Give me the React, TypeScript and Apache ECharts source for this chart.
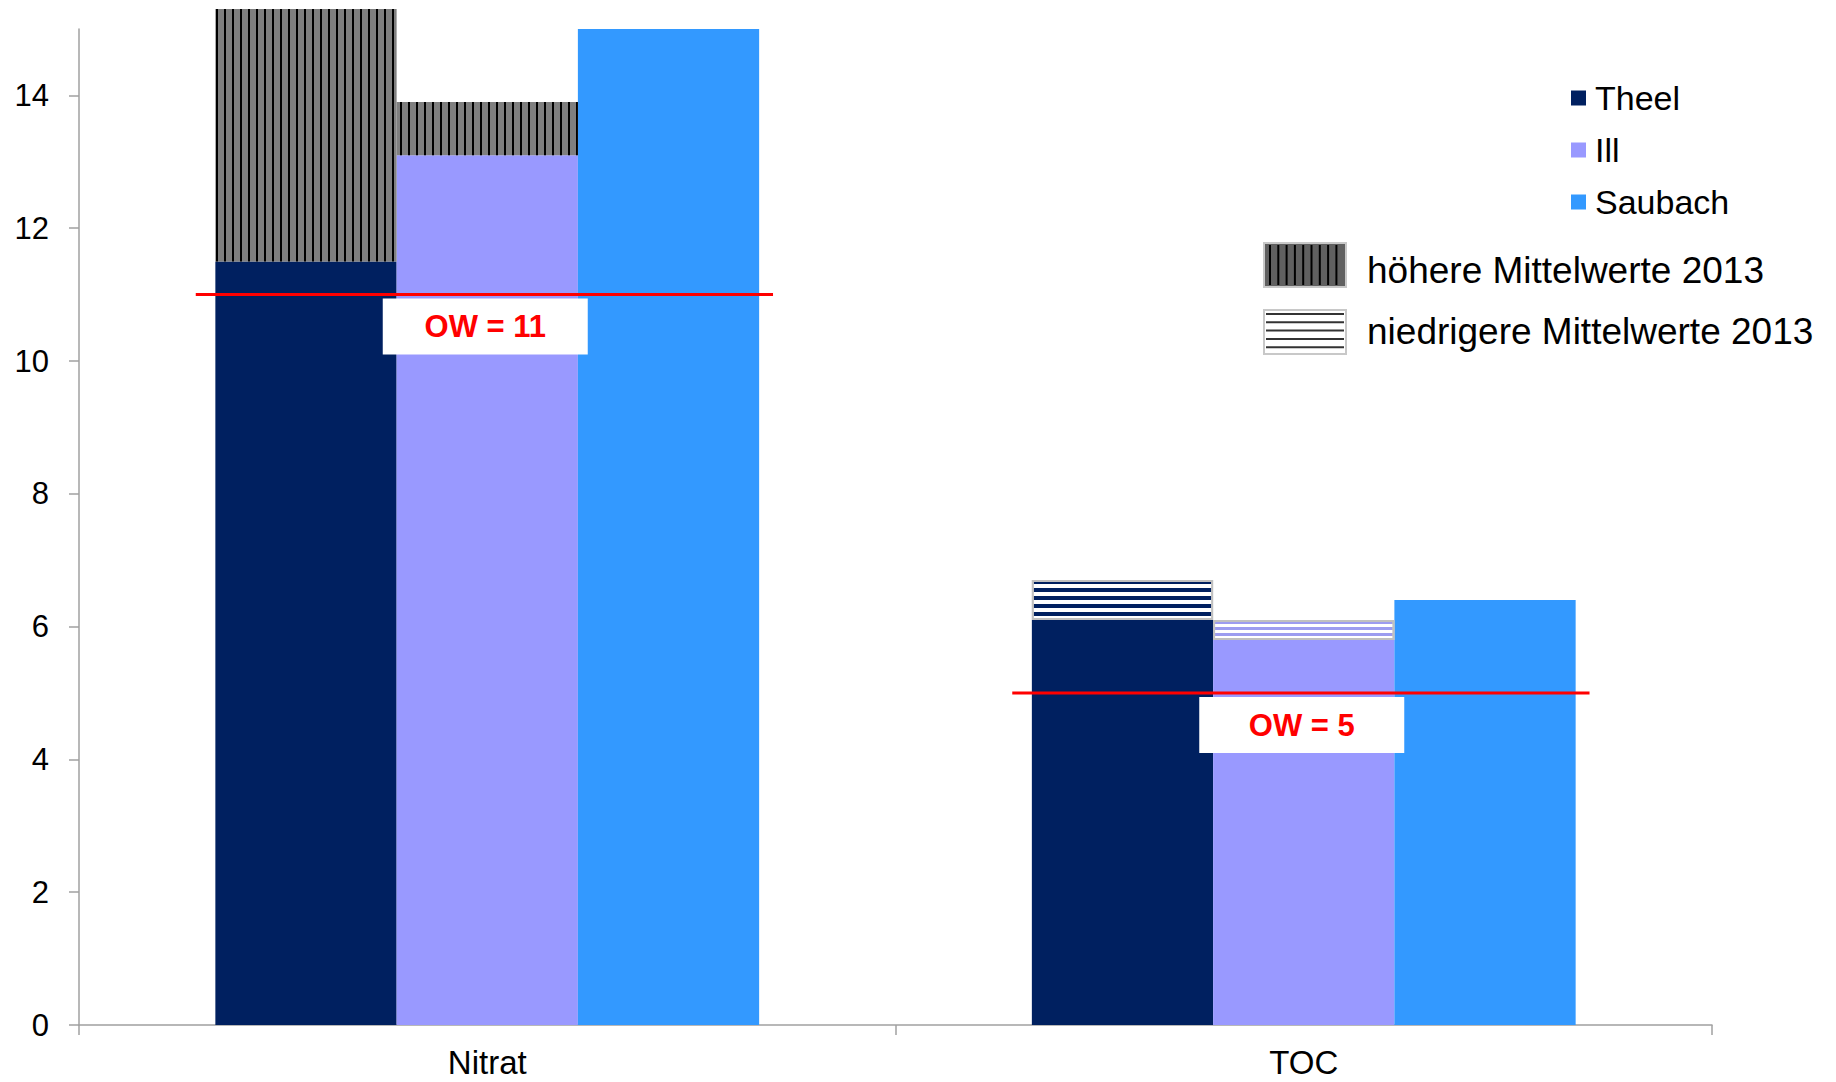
import { useEffect, useRef } from 'react';
import * as echarts from 'echarts';

// Mittelwerte je Parameter und Gewässer
const categories = ['Nitrat', 'TOC'];
const rivers = ['Theel', 'Ill', 'Saubach'];
const theel = [11.5, 6.1];
const ill = [13.1, 5.8];
const saubach = [15.0, 6.4];
// Abweichung der Mittelwerte 2013, auf den Balken aufgesetzt
const theelDiff2013 = [3.8, 0.6];
const illDiff2013 = [0.8, 0.3];
// Art der Abweichung je Parameter: true = höher, false = niedriger
const higher2013 = [true, false];
// Orientierungswerte
const owValues = [11, 5];
const yTicks = [0, 2, 4, 6, 8, 10, 12, 14];
const patternKeys = ['höhere Mittelwerte 2013', 'niedrigere Mittelwerte 2013'];

const FONT = "'Liberation Sans', Arial, Helvetica, sans-serif";
const COLORS = { Theel: '#002060', Ill: '#9999FF', Saubach: '#3399FF' };

const higherStyle = {
  color: '#7F7F7F',
  decal: {
    symbol: 'rect',
    symbolSize: 1,
    color: '#000000',
    dashArrayX: [2, 6],
    dashArrayY: [1, 0],
  },
};

const lowerStyle = (base: string, stripe: number[]) => ({
  color: base,
  borderColor: '#C0C0C0',
  borderWidth: 2,
  decal: {
    symbol: 'rect',
    symbolSize: 1,
    color: '#FFFFFF',
    dashArrayX: [1, 0],
    dashArrayY: stripe,
  },
});

function diffData(values: number[], base: string, stripe: number[]) {
  return values.map((v, i) => ({
    value: v,
    itemStyle: higher2013[i] ? higherStyle : lowerStyle(base, stripe),
  }));
}

function patternLegend(): any[] {
  const sx = 1264;
  const sw = 82;
  const sh = 44;
  const tops = [243, 310];
  const textY = [270, 331];
  const els: any[] = [];
  // Schlüssel "höher": graue Fläche mit senkrechten Linien
  const vLines: any[] = [];
  for (let x = sx + 6; x < sx + sw - 2; x += 8.3) {
    vLines.push({
      type: 'line',
      shape: { x1: x, y1: tops[0] + 2, x2: x, y2: tops[0] + sh - 2 },
      style: { stroke: '#000', lineWidth: 2 },
    });
  }
  els.push({
    type: 'group',
    children: [
      {
        type: 'rect',
        shape: { x: sx, y: tops[0], width: sw, height: sh },
        style: { fill: '#606060', stroke: '#C8C8C8', lineWidth: 2 },
      },
      ...vLines,
    ],
  });
  // Schlüssel "niedriger": weiße Fläche mit waagerechten Linien
  const hLines: any[] = [];
  for (let y = tops[1] + 4; y < tops[1] + sh - 2; y += 8.3) {
    hLines.push({
      type: 'line',
      shape: { x1: sx + 2, y1: y, x2: sx + sw - 2, y2: y },
      style: { stroke: '#333', lineWidth: 2 },
    });
  }
  els.push({
    type: 'group',
    children: [
      {
        type: 'rect',
        shape: { x: sx, y: tops[1], width: sw, height: sh },
        style: { fill: '#FFFFFF', stroke: '#C8C8C8', lineWidth: 2 },
      },
      ...hLines,
    ],
  });
  patternKeys.forEach((t, i) => {
    els.push({
      type: 'text',
      x: 1367,
      y: textY[i],
      style: {
        text: t,
        fill: '#000',
        fontSize: 37,
        fontFamily: FONT,
        verticalAlign: 'middle',
      },
    });
  });
  return els;
}

export default function App() {
  const ref = useRef<HTMLDivElement>(null);

  useEffect(() => {
    if (!ref.current) return;
    const chart = echarts.init(ref.current, undefined, { renderer: 'svg' });

    const option: any = {
      animation: false,
      backgroundColor: '#ffffff',
      textStyle: { fontFamily: FONT },
      grid: { left: 79, right: 124, top: 29, bottom: 57 },
      legend: {
        data: rivers,
        orient: 'vertical',
        left: 1566,
        top: 73,
        itemWidth: 15,
        itemHeight: 15,
        itemGap: 12,
        icon: 'rect',
        textStyle: {
          fontSize: 34,
          lineHeight: 40,
          color: '#000',
          fontFamily: FONT,
          padding: [0, 0, 0, 4],
        },
      },
      xAxis: {
        type: 'category',
        data: categories,
        axisLine: { lineStyle: { color: '#A0A0A0', width: 1.5 } },
        axisTick: { show: true, length: 10, lineStyle: { color: '#A0A0A0', width: 1.5 } },
        axisLabel: { fontSize: 33, color: '#000', margin: 21, fontFamily: FONT },
      },
      yAxis: {
        type: 'value',
        min: 0,
        max: 15,
        interval: 2,
        splitLine: { show: false },
        axisLine: { show: true, lineStyle: { color: '#A0A0A0', width: 1.5 } },
        axisTick: {
          show: true,
          length: 10,
          customValues: yTicks,
          lineStyle: { color: '#A0A0A0', width: 1.5 },
        },
        axisLabel: {
          fontSize: 31,
          color: '#000',
          margin: 30,
          fontFamily: FONT,
          customValues: yTicks,
        },
      },
      graphic: patternLegend(),
      series: [
        {
          name: 'Theel',
          type: 'bar',
          stack: 'theel',
          data: theel,
          barGap: '0%',
          barCategoryGap: '33.4%',
          itemStyle: { color: COLORS.Theel },
          clip: false,
        },
        {
          name: 'Ill',
          type: 'bar',
          stack: 'ill',
          data: ill,
          itemStyle: { color: COLORS.Ill },
          clip: false,
        },
        {
          name: 'Saubach',
          type: 'bar',
          stack: 'saubach',
          data: saubach,
          itemStyle: { color: COLORS.Saubach },
          clip: false,
        },
        {
          name: 'Theel 2013',
          type: 'bar',
          stack: 'theel',
          data: diffData(theelDiff2013, COLORS.Theel, [4, 4]),
          clip: false,
        },
        {
          name: 'Ill 2013',
          type: 'bar',
          stack: 'ill',
          data: diffData(illDiff2013, '#9C9CF0', [3, 3]),
          clip: false,
        },
        {
          // Orientierungswert: rote Linie mit Beschriftung
          name: 'OW',
          type: 'custom',
          z: 10,
          clip: false,
          data: owValues.map((v, i) => [i, v]),
          renderItem: (params: any, api: any) => {
            const idx = api.value(0);
            const v = api.value(1);
            const [cx, cy] = api.coord([idx, v]);
            const bw = api.size([1, 0])[0];
            const boxW = 205;
            const boxH = 56;
            return {
              type: 'group',
              children: [
                {
                  type: 'rect',
                  shape: { x: cx - boxW / 2 - 2, y: cy + 4, width: boxW, height: boxH },
                  style: { fill: '#FFFFFF' },
                },
                {
                  type: 'line',
                  shape: { x1: cx - 0.357 * bw, y1: cy, x2: cx + 0.35 * bw, y2: cy },
                  style: { stroke: '#FF0000', lineWidth: 3 },
                },
                {
                  type: 'text',
                  x: cx - 2,
                  y: cy + 4 + boxH / 2,
                  style: {
                    text: 'OW = ' + v,
                    fill: '#FF0000',
                    fontSize: 31,
                    fontWeight: 'bold',
                    fontFamily: FONT,
                    align: 'center',
                    verticalAlign: 'middle',
                  },
                },
              ],
            };
          },
        },
      ],
    };

    chart.setOption(option);
    return () => chart.dispose();
  }, []);

  return (
    <div
      ref={ref}
      style={{
        position: 'fixed',
        left: 0,
        top: 0,
        width: 1836,
        height: 1082,
        background: '#ffffff',
      }}
    />
  );
}
